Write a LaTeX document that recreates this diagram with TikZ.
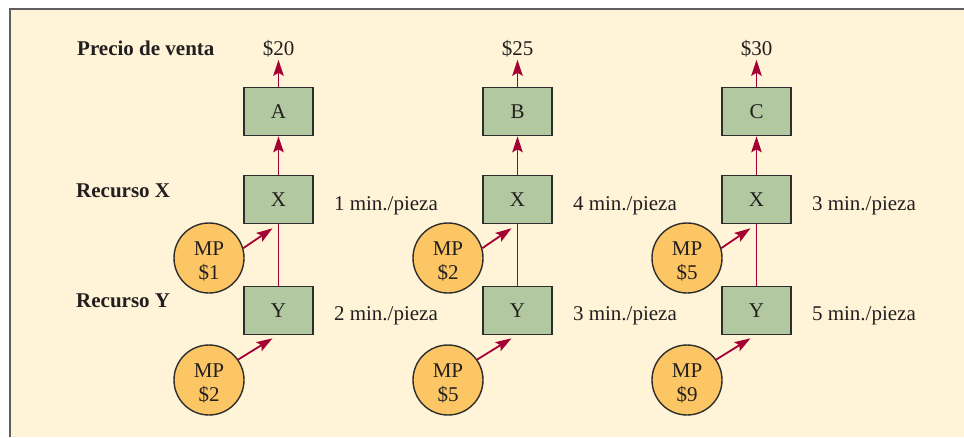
\documentclass[tikz,border=0pt]{standalone}
\usepackage{fontspec}
\setmainfont{Liberation Serif}
\usetikzlibrary{arrows.meta,calc}
\definecolor{bgcream}{RGB}{255,244,216}
\definecolor{boxgreen}{RGB}{178,200,160}
\definecolor{mporange}{RGB}{253,198,100}
\definecolor{arrred}{RGB}{165,0,52}
\definecolor{edgegray}{RGB}{45,45,45}
\definecolor{framegray}{RGB}{95,95,95}
\definecolor{txtcol}{RGB}{35,31,32}
\newcommand{\mptext}[1]{\raisebox{-5pt}[\height][\depth]{\renewcommand{\arraystretch}{1}\setlength{\tabcolsep}{0pt}\begin{tabular}{c}MP\\\$#1\end{tabular}}}
\tikzset{
  txt/.style={font=\fontsize{21}{24}\selectfont, text=txtcol, inner sep=0pt},
  lbl/.style={txt, font=\fontsize{21}{24}\selectfont\bfseries, anchor=base west},
  stepbox/.style={draw=edgegray, line width=1.6pt, fill=boxgreen, minimum width=69pt, minimum height=48pt, inner sep=0pt, txt},
  mp/.style={circle, draw=edgegray, line width=1.4pt, fill=mporange, minimum size=70pt, inner sep=0pt, txt},
  arr/.style={draw=arrred, line width=1.8pt, -{Stealth[length=16pt,width=10.5pt,inset=3pt]}},
  link/.style={draw=arrred, line width=1.5pt}
}
\begin{document}
\begin{tikzpicture}[x=1pt,y=-1pt]
\useasboundingbox (0,0) rectangle (964,437);
\fill[white] (0,0) rectangle (964,437);
\fill[bgcream] (10,9) rectangle (964,437);
\draw[framegray, line width=2pt] (10,437) -- (10,9) -- (964,9);
\node[lbl] (pv) at (77,55) {Precio de venta};
\node[lbl] (rx) at (76,197) {Recurso X};
\node[lbl] (ry) at (76,307) {Recurso Y};
\foreach \i/\cx/\top/\pr/\tx/\ty/\mx/\my in {1/278.5/A/20/1/2/1/2, 2/517.5/B/25/4/3/2/5, 3/756.5/C/30/3/5/5/9}{
  \node[stepbox] (P\i) at (\cx,111.5) {\top};
  \node[stepbox] (X\i) at (\cx,199.5) {X};
  \node[stepbox] (Y\i) at (\cx,310.5) {Y};
  \node[txt, anchor=base] (pr\i) at (\cx,55) {\$\pr};
  \node[txt, anchor=base west] (tx\i) at ($(X\i.east)+(20,10.5)$) {\tx\ min./pieza};
  \node[txt, anchor=base west] (ty\i) at ($(Y\i.east)+(20,10)$) {\ty\ min./pieza};
  \node[mp] (m\i) at (\cx-69.5,258) {\mptext{\mx}};
  \node[mp] (n\i) at (\cx-69.5,380) {\mptext{\my}};
  \draw[arr, shorten >=3pt] (P\i) -- (pr\i);
  \draw[arr] (X\i) -- (P\i);
  \draw[link] (Y\i) -- (X\i);
  \draw[arr] (m\i.16) -- ($(X\i.south)+(-6,4)$);
  \draw[arr] (n\i.35) -- ($(Y\i.south)+(-6,3)$);
}
\end{tikzpicture}
\end{document}
